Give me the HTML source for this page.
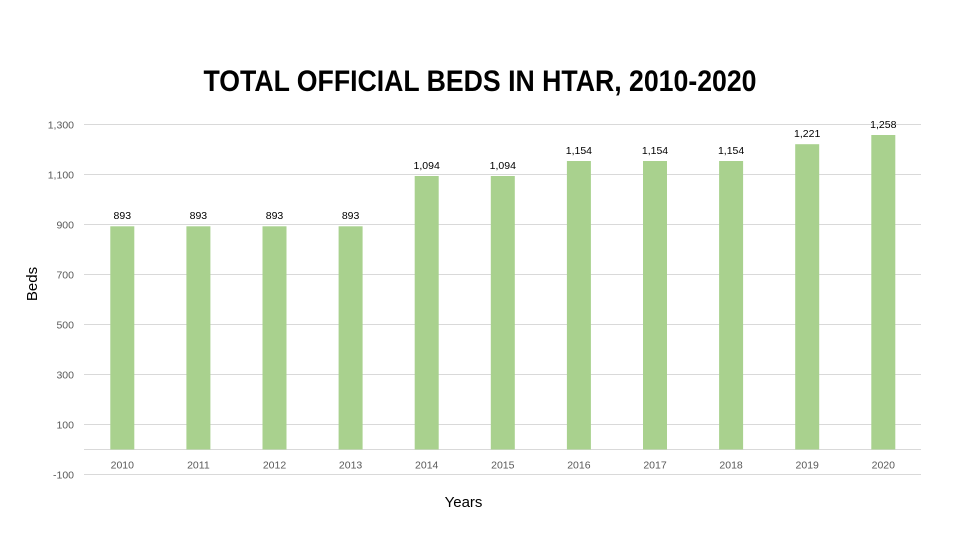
<!DOCTYPE html>
<html><head><meta charset="utf-8"><style>
html,body{margin:0;padding:0;background:#fff;}
svg{display:block;}
text{font-family:"Liberation Sans",sans-serif;}
</style></head><body>
<svg width="960" height="540" viewBox="0 0 960 540" xmlns="http://www.w3.org/2000/svg">
<rect width="960" height="540" fill="#fff"/>
<text x="480" y="91" text-anchor="middle" font-size="30" font-weight="bold" fill="#000" textLength="553" lengthAdjust="spacingAndGlyphs">TOTAL OFFICIAL BEDS IN HTAR, 2010-2020</text>
<g stroke="#D9D9D9" stroke-width="1">
<line x1="84" x2="921" y1="124.5" y2="124.5"/>
<line x1="84" x2="921" y1="174.5" y2="174.5"/>
<line x1="84" x2="921" y1="224.5" y2="224.5"/>
<line x1="84" x2="921" y1="274.5" y2="274.5"/>
<line x1="84" x2="921" y1="324.5" y2="324.5"/>
<line x1="84" x2="921" y1="374.5" y2="374.5"/>
<line x1="84" x2="921" y1="424.5" y2="424.5"/>
<line x1="84" x2="921" y1="449.5" y2="449.5"/>
<line x1="84" x2="921" y1="474.5" y2="474.5"/>
</g>
<g font-size="10.5" fill="#595959" text-anchor="end">
<text x="74" y="128.5">1,300</text>
<text x="74" y="178.5">1,100</text>
<text x="74" y="228.5">900</text>
<text x="74" y="278.5">700</text>
<text x="74" y="328.5">500</text>
<text x="74" y="378.5">300</text>
<text x="74" y="428.5">100</text>
<text x="74" y="478.5">-100</text>
</g>
<g fill="#A9D18E">
<rect x="110.3" y="226.3" width="24" height="223.2"/>
<rect x="186.4" y="226.3" width="24" height="223.2"/>
<rect x="262.5" y="226.3" width="24" height="223.2"/>
<rect x="338.6" y="226.3" width="24" height="223.2"/>
<rect x="414.7" y="176" width="24" height="273.5"/>
<rect x="490.8" y="176" width="24" height="273.5"/>
<rect x="566.9" y="161" width="24" height="288.5"/>
<rect x="643" y="161" width="24" height="288.5"/>
<rect x="719.1" y="161" width="24" height="288.5"/>
<rect x="795.2" y="144.2" width="24" height="305.3"/>
<rect x="871.3" y="135" width="24" height="314.5"/>
</g>
<g font-size="10.5" fill="#000" text-anchor="middle">
<text x="122.3" y="219">893</text>
<text x="198.4" y="219">893</text>
<text x="274.5" y="219">893</text>
<text x="350.6" y="219">893</text>
<text x="426.7" y="169">1,094</text>
<text x="502.8" y="169">1,094</text>
<text x="578.9" y="154">1,154</text>
<text x="655" y="154">1,154</text>
<text x="731.1" y="154">1,154</text>
<text x="807.2" y="137">1,221</text>
<text x="883.3" y="128">1,258</text>
</g>
<g font-size="10.5" fill="#595959" text-anchor="middle">
<text x="122.3" y="468.5">2010</text>
<text x="198.4" y="468.5">2011</text>
<text x="274.5" y="468.5">2012</text>
<text x="350.6" y="468.5">2013</text>
<text x="426.7" y="468.5">2014</text>
<text x="502.8" y="468.5">2015</text>
<text x="578.9" y="468.5">2016</text>
<text x="655" y="468.5">2017</text>
<text x="731.1" y="468.5">2018</text>
<text x="807.2" y="468.5">2019</text>
<text x="883.3" y="468.5">2020</text>
</g>
<text x="463.5" y="507" font-size="15" fill="#000" text-anchor="middle">Years</text>
<text transform="translate(37,284) rotate(-90)" font-size="15" fill="#000" text-anchor="middle">Beds</text>
</svg>
</body></html>
